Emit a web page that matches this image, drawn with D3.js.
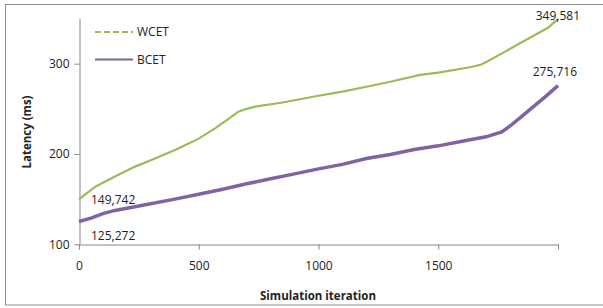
<!DOCTYPE html>
<html>
<head>
<meta charset="utf-8">
<script src="https://cdn.jsdelivr.net/npm/d3@7"></script>
<style>
  body { margin: 0; background: #fff; }
  text { font-family: "Open Sans", sans-serif; fill: #222; }
</style>
</head>
<body>
<div id="chart"></div>
<script>
const width = 603;
const height = 308;

// Data
const wcetIter = [0, 30, 70, 150, 234, 300, 401, 500, 568, 620, 665, 700, 735, 850, 1000, 1100, 1215, 1300, 1424, 1500, 1633, 1680, 1702, 1772, 1841, 1911, 1960, 2000];
const wcetVals = [149.742, 156, 164, 175, 186, 193, 204.4, 217, 228.4, 238, 246.8, 250, 252.4, 257, 264.5, 269, 275.3, 280, 287.5, 290, 296, 299, 302.2, 312.2, 322.6, 332.9, 340, 349.581];
const bcetIter = [0, 50, 100, 150, 250, 400, 500, 600, 700, 800, 900, 1000, 1100, 1200, 1300, 1400, 1500, 1600, 1700, 1765, 1800, 1850, 1900, 1950, 2000];
const bcetVals = [125.272, 129, 134, 137.5, 142.5, 150, 155.5, 161, 167, 172.5, 178, 183.5, 188.5, 195, 199.5, 205, 209, 214, 219, 224.5, 231, 242, 253, 264, 275.716];
const xTicks = [0, 500, 1000, 1500, 2000];
const xTickLabels = ["0", "500", "1000", "1500", ""];
const yTicks = [100, 200, 300];
const seriesNames = ["WCET", "BCET"];
const colors = ["#9bbb59", "#8064a2"];

const svg = d3.select("#chart")
    .append("svg")
    .attr("width", width)
    .attr("height", height);

// outer chart border (right edge falls outside the picture)
svg.append("rect")
    .attr("x", 5.5).attr("y", 4.5)
    .attr("width", 620).attr("height", 300.5)
    .attr("fill", "#fff")
    .attr("stroke", "#8c8c8c");

const x = d3.scaleLinear().domain([0, 2000]).range([79, 558]);
const y = d3.scaleLinear().domain([100, 350]).range([244.3, 18.5]);

// x axis
const xAxis = svg.append("g")
    .attr("transform", "translate(0,244.5)")
    .call(d3.axisBottom(x).tickValues(xTicks).tickSize(5).tickSizeOuter(0)
        .tickFormat((d, i) => xTickLabels[i]));
xAxis.select(".domain").attr("stroke", "#868686");
xAxis.selectAll(".tick line").attr("stroke", "#868686");
xAxis.selectAll(".tick text").attr("dy", "1.1em").attr("y", 12)
    .style("font-size", "12px").attr("fill", "#222");

// y axis
const yAxis = svg.append("g")
    .attr("transform", "translate(79.5,0)")
    .call(d3.axisLeft(y).tickValues(yTicks).tickSize(5).tickSizeOuter(0));
yAxis.select(".domain").attr("stroke", "#868686");
yAxis.selectAll(".tick line").attr("stroke", "#868686");
yAxis.selectAll(".tick text").attr("x", -10)
    .style("font-size", "12px").attr("fill", "#222");

// axis titles
svg.append("text")
    .attr("x", 318).attr("y", 300)
    .attr("text-anchor", "middle")
    .style("font-size", "11.5px").style("font-weight", "bold")
    .text("Simulation iteration");

svg.append("text")
    .attr("transform", "translate(31,132) rotate(-90)")
    .attr("text-anchor", "middle")
    .style("font-size", "11.5px").style("font-weight", "bold")
    .text("Latency (ms)");

const line = d3.line()
    .x(d => x(d[0]))
    .y(d => y(d[1]));

const wcet = wcetIter.map((v, i) => [v, wcetVals[i]]);
const bcet = bcetIter.map((v, i) => [v, bcetVals[i]]);

svg.append("path")
    .datum(wcet)
    .attr("d", line)
    .attr("fill", "none")
    .attr("stroke", colors[0])
    .attr("stroke-width", 2.2);

svg.append("path")
    .datum(bcet)
    .attr("d", line)
    .attr("fill", "none")
    .attr("stroke", colors[1])
    .attr("stroke-width", 3.5);

// data labels at first and last points, e.g. 149.742 -> "149,742"
function valueLabel(v) {
    return d3.format(".3f")(v).replace(".", ",");
}

const labels = [
    { v: wcetVals[0], lx: x(wcetIter[0]) + 12, ly: 200, anchor: "start" },
    { v: bcetVals[0], lx: x(bcetIter[0]) + 12, ly: 236, anchor: "start" },
    { v: wcetVals[wcetVals.length - 1], lx: 580, ly: 16, anchor: "end" },
    { v: bcetVals[bcetVals.length - 1], lx: 577, ly: 72, anchor: "end" }
];
svg.selectAll(".dlabel")
    .data(labels)
    .enter()
    .append("text")
    .attr("class", "dlabel")
    .attr("x", d => d.lx)
    .attr("y", d => d.ly)
    .attr("dy", "0.35em")
    .attr("text-anchor", d => d.anchor)
    .style("font-size", "12px")
    .text(d => valueLabel(d.v));

// legend
const legend = svg.append("g");
seriesNames.forEach((name, i) => {
    const ly = 32 + i * 27.5;
    legend.append("line")
        .attr("x1", 95).attr("x2", 133)
        .attr("y1", ly).attr("y2", ly)
        .attr("stroke", colors[i])
        .attr("stroke-width", 2)
        .attr("stroke-dasharray", i === 0 ? "6,3" : null);
    legend.append("text")
        .attr("x", 137).attr("y", ly)
        .attr("dy", "0.35em")
        .style("font-size", "12px")
        .text(name);
});
</script>
</body>
</html>
